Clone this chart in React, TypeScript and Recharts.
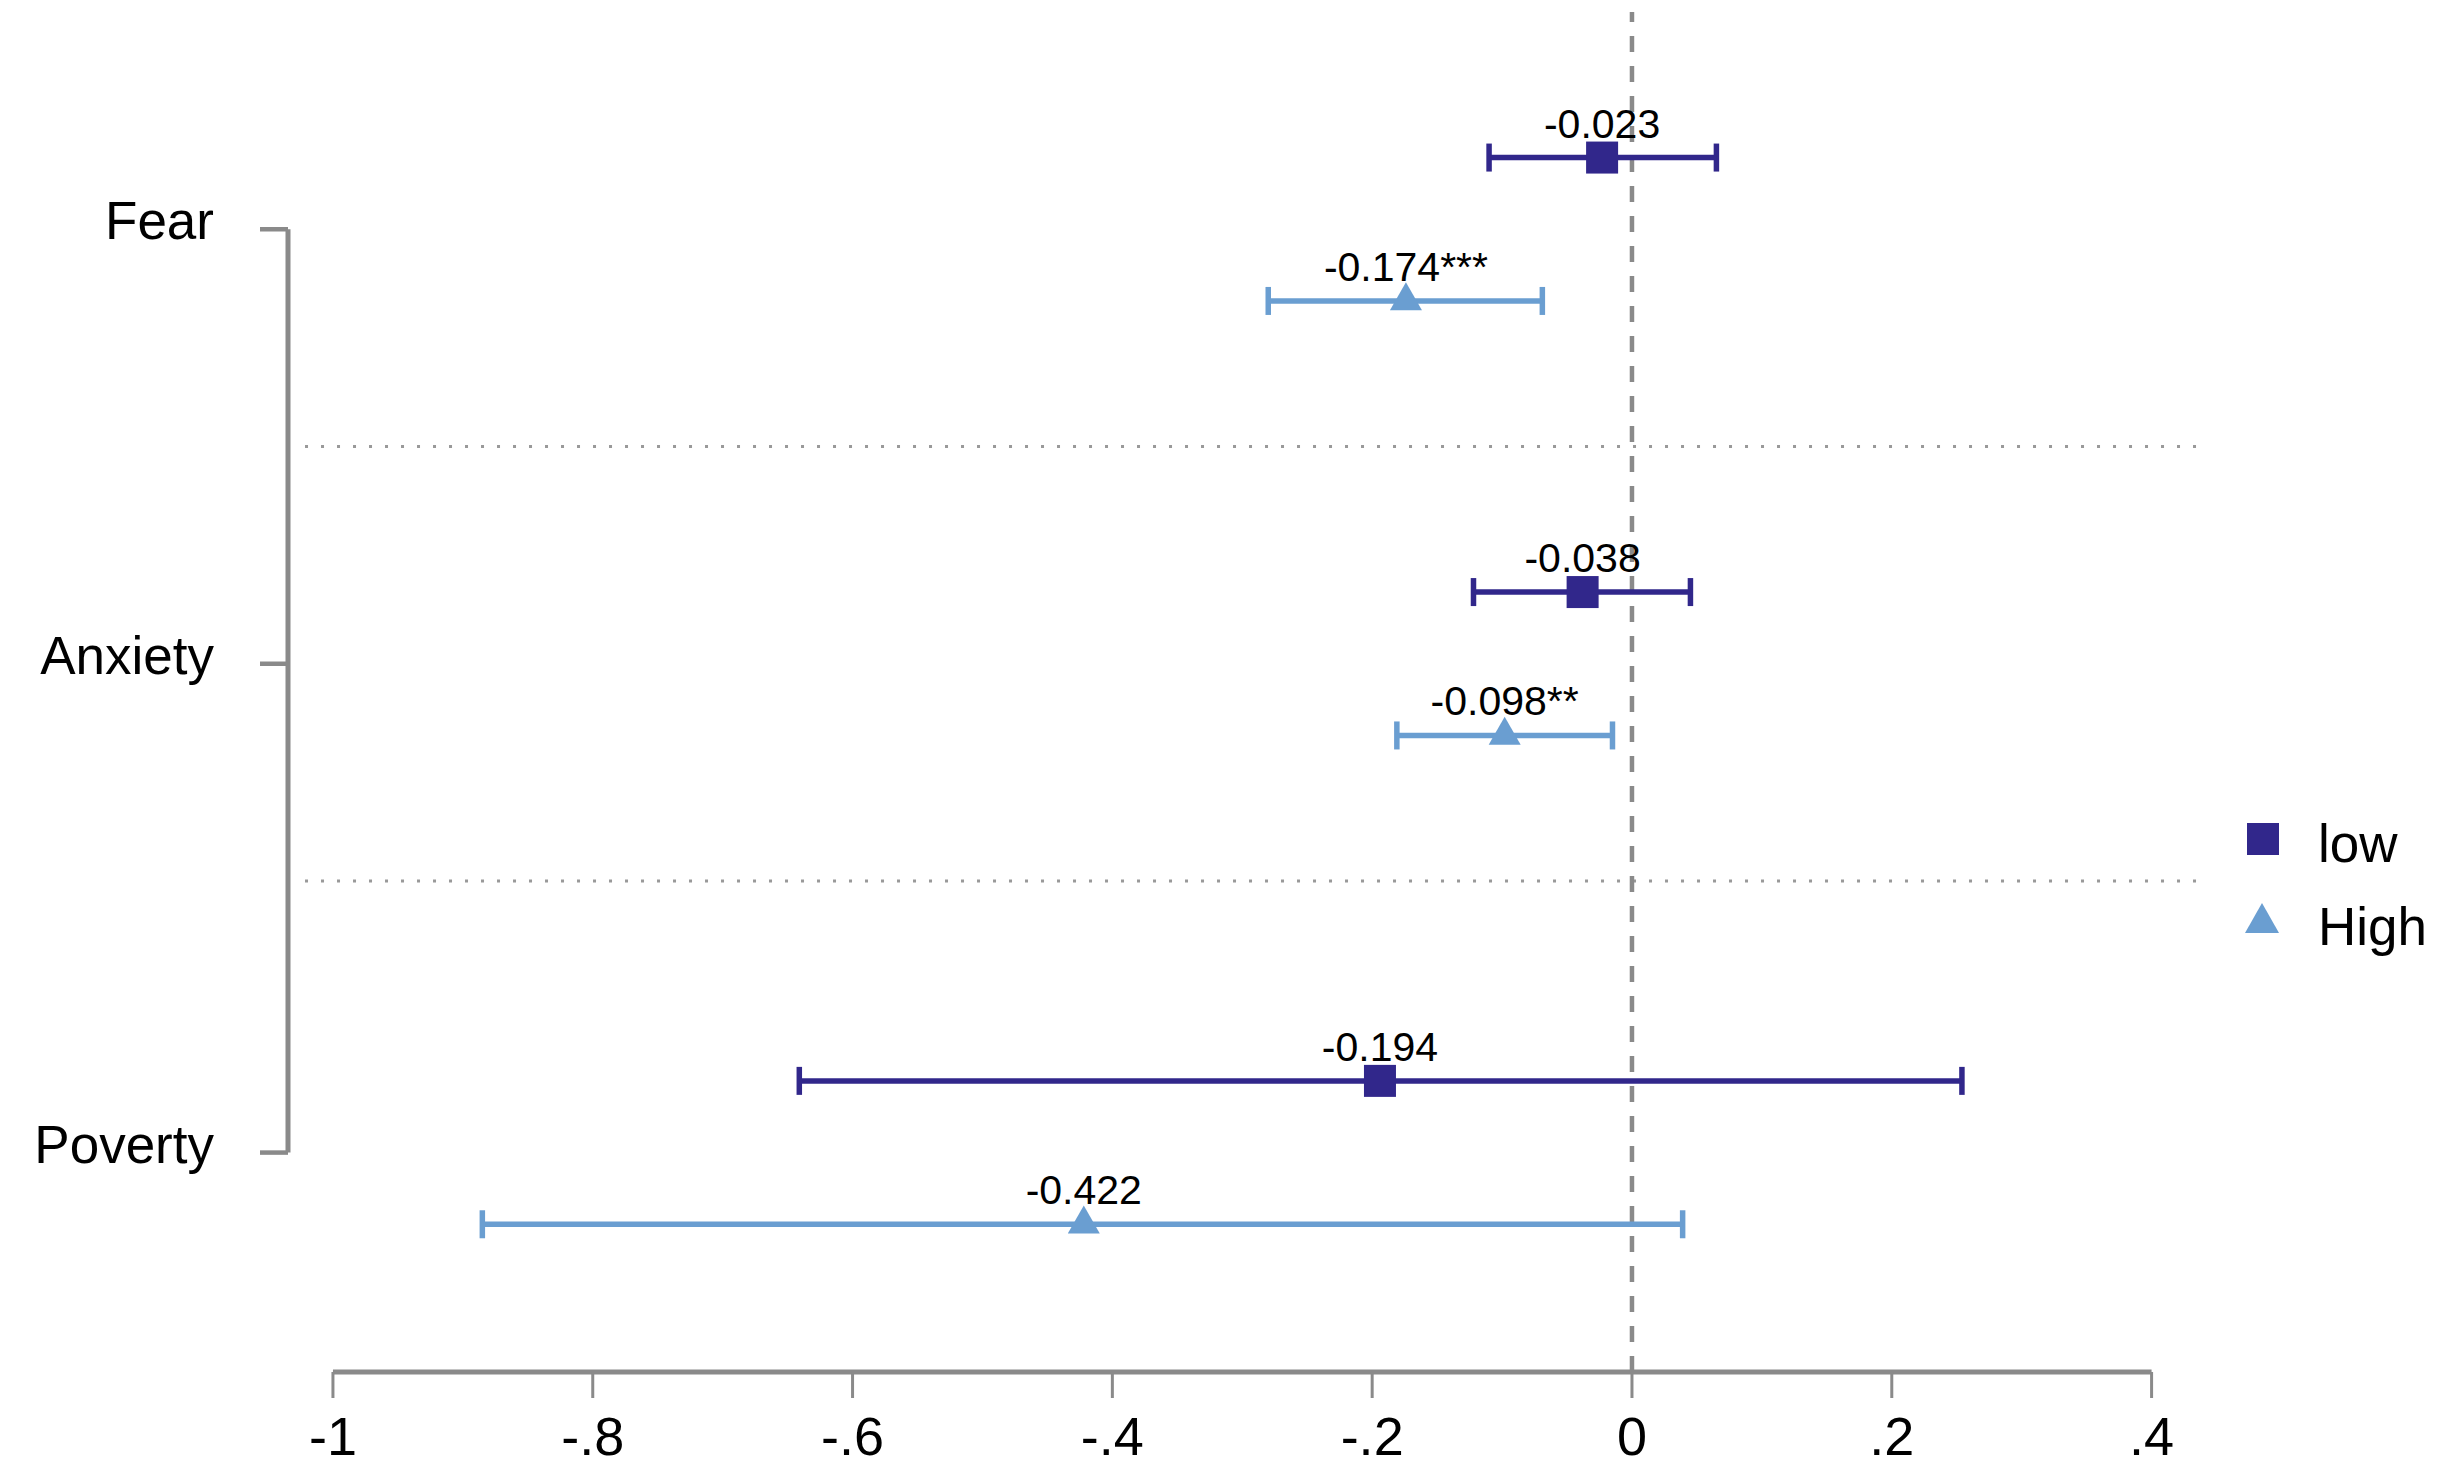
import { ScatterChart, Scatter, XAxis, YAxis, ErrorBar, ReferenceLine, Legend } from 'recharts';

const categories = ['Fear', 'Anxiety', 'Poverty'];

const lowEst = [-0.023, -0.038, -0.194];
const lowCiLo = [-0.11, -0.122, -0.641];
const lowCiHi = [0.065, 0.045, 0.254];
const lowStars = ['', '', ''];

const highEst = [-0.174, -0.098, -0.422];
const highCiLo = [-0.28, -0.181, -0.885];
const highCiHi = [-0.069, -0.015, 0.039];
const highStars = ['***', '**', ''];

const xTicks = [-1, -0.8, -0.6, -0.4, -0.2, 0, 0.2, 0.4];

// layout: row centres on the y scale, and the shift of each group inside a row
const catPos = [0, 1, 2.125];
const groupShift = 0.165;
const X_DOMAIN: [number, number] = [-1.0346, 0.4365];
const Y_DOMAIN: [number, number] = [-0.5, 2.63];

const FONT = '"Liberation Sans", Arial, Helvetica, sans-serif';
const NAVY = '#31278b';
const BLUE = '#6a9ed1';
const GRAY = '#8a8a8a';

const buildRows = (est: number[], lo: number[], hi: number[], stars: string[], shift: number) =>
  categories.map((name, i) => ({
    name,
    x: est[i],
    y: catPos[i] + shift,
    err: [est[i] - lo[i], hi[i] - est[i]],
    label: est[i].toFixed(3) + stars[i],
  }));

const lowData = buildRows(lowEst, lowCiLo, lowCiHi, lowStars, -groupShift);
const highData = buildRows(highEst, highCiLo, highCiHi, highStars, groupShift);

const fmtX = (v: number) => {
  if (v === 0) return '0';
  return (v < 0 ? '-' : '') + String(Math.abs(v)).replace(/^0/, '');
};

function ValueText({ cx, cy, text }: { cx: number; cy: number; text: string }) {
  return (
    <text x={cx} y={cy - 20} textAnchor="middle" fontSize={41} fontFamily={FONT} fill="#000">
      {text}
    </text>
  );
}

function SquareMarker(props: any) {
  const { cx, cy, payload } = props;
  return (
    <g>
      <rect x={cx - 16} y={cy - 16} width={32} height={32} fill={NAVY} />
      <ValueText cx={cx} cy={cy} text={payload.label} />
    </g>
  );
}

function TriangleMarker(props: any) {
  const { cx, cy, payload } = props;
  return (
    <g>
      <polygon points={`${cx - 16},${cy + 9.3} ${cx + 16},${cy + 9.3} ${cx},${cy - 18.7}`} fill={BLUE} />
      <ValueText cx={cx} cy={cy} text={payload.label} />
    </g>
  );
}

function CategoryTick({ x, y, payload }: any) {
  const idx = catPos.indexOf(payload.value);
  return (
    <text x={x} y={y} dy={10} textAnchor="end" fontSize={53} fontFamily={FONT} fill="#000">
      {categories[idx]}
    </text>
  );
}

function ValueTick({ x, y, payload }: any) {
  return (
    <text x={x} y={y} dy={47} textAnchor="middle" fontSize={54} fontFamily={FONT} fill="#000">
      {fmtX(payload.value)}
    </text>
  );
}

function LegendBox() {
  return (
    <svg width={220} height={170} style={{ display: 'block' }}>
      <rect x={7} y={23} width={32} height={32} fill={NAVY} />
      <text x={78} y={62} fontSize={53} fontFamily={FONT} fill="#000">low</text>
      <polygon points="5,133 39,133 22,103" fill={BLUE} />
      <text x={78} y={145} fontSize={53} fontFamily={FONT} fill="#000">High</text>
    </svg>
  );
}

export default function App() {
  return (
    <div style={{ position: 'absolute', left: 0, top: 0, background: '#fff' }}>
      <ScatterChart width={2451} height={1469} margin={{ top: 12, right: 252, bottom: 0, left: 0 }}>
        <XAxis
          type="number"
          dataKey="x"
          domain={X_DOMAIN}
          allowDataOverflow
          ticks={xTicks}
          interval={0}
          axisLine={false}
          tickLine={{ stroke: GRAY, strokeWidth: 3 }}
          tickSize={26}
          tickMargin={10}
          height={97}
          tick={<ValueTick />}
        />
        <YAxis
          type="number"
          dataKey="y"
          domain={Y_DOMAIN}
          reversed
          allowDataOverflow
          ticks={catPos}
          interval={0}
          axisLine={false}
          tickLine={{ stroke: GRAY, strokeWidth: 4.5 }}
          tickSize={28}
          tickMargin={46}
          width={288}
          tick={<CategoryTick />}
        />
        {/* bracket on the left, from the first to the last row */}
        <ReferenceLine
          segment={[{ x: X_DOMAIN[0], y: catPos[0] }, { x: X_DOMAIN[0], y: catPos[2] }]}
          stroke={GRAY}
          strokeWidth={5}
        />
        {/* separators between rows */}
        <ReferenceLine
          segment={[{ x: -1.0215, y: 0.5 }, { x: X_DOMAIN[1], y: 0.5 }]}
          stroke="#999"
          strokeWidth={3}
          strokeDasharray="3 13"
        />
        <ReferenceLine
          segment={[{ x: -1.0215, y: 1.5 }, { x: X_DOMAIN[1], y: 1.5 }]}
          stroke="#999"
          strokeWidth={3}
          strokeDasharray="3 13"
        />
        {/* x axis line only across the tick range */}
        <ReferenceLine
          segment={[{ x: -1, y: Y_DOMAIN[1] }, { x: 0.4, y: Y_DOMAIN[1] }]}
          stroke={GRAY}
          strokeWidth={5}
        />
        <ReferenceLine x={0} stroke={GRAY} strokeWidth={4.5} strokeDasharray="16 14" />
        <Legend
          layout="vertical"
          align="center"
          verticalAlign="middle"
          wrapperStyle={{ left: 2240, top: 800, right: 'auto', bottom: 'auto', width: 220 }}
          content={() => <LegendBox />}
        />
        <Scatter name="low" data={lowData} shape={<SquareMarker />} isAnimationActive={false}>
          <ErrorBar dataKey="err" direction="x" stroke={NAVY} strokeWidth={5.5} width={14} isAnimationActive={false} />
        </Scatter>
        <Scatter name="High" data={highData} shape={<TriangleMarker />} isAnimationActive={false}>
          <ErrorBar dataKey="err" direction="x" stroke={BLUE} strokeWidth={5.5} width={14} isAnimationActive={false} />
        </Scatter>
      </ScatterChart>
    </div>
  );
}
